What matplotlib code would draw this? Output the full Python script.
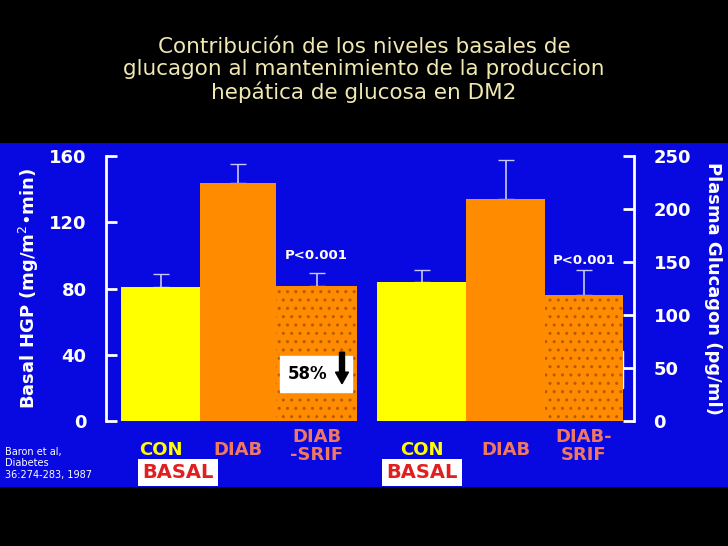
import matplotlib.pyplot as plt
from matplotlib.patches import Rectangle, FancyArrow

# Datos
groups = ['CON', 'DIAB', 'DIAB\n-SRIF']
groups_r = ['CON', 'DIAB', 'DIAB-\nSRIF']
hgp = [81, 144, 81.5]
hgp_err = [8, 11, 8]
glucagon = [131, 209, 119]
glucagon_err = [11, 37, 23]
left_ticks = [0, 40, 80, 120, 160]
right_ticks = [0, 50, 100, 150, 200, 250]

yellow = '#ffff00'
orange = '#ff8c00'
blue = '#0808e0'
lab_cols = [yellow, '#f07860', '#f07860']

fig = plt.figure(figsize=(7.28, 5.46), dpi=100, facecolor='black')
bg = fig.add_axes([0, 59/546, 1, 344/546], zorder=-1)
bg.set_facecolor(blue)
bg.axis('off')
bg.add_patch(Rectangle((0, 0), 1, 1, transform=bg.transAxes, color=blue))
fig.text(0.5, 1 - 70/546,
         'Contribución de los niveles basales de\nglucagon al mantenimiento de la produccion\nhepática de glucosa en DM2',
         ha='center', va='center', color='#f0e8b0', fontsize=15.5, linespacing=1.15)

pos = [106/728, (546-421)/546, (634-106)/728, (421-156)/546]
ax = fig.add_axes(pos)
ax.set_facecolor('none')
ax.set_xlim(106, 634)
ax.set_ylim(0, 160)
ax2 = ax.twinx()
ax2.set_ylim(0, 250)

# barras izquierda (HGP)
lx = [121, 200, 276]
lw = [79, 76, 81]
ax.bar(lx[:2], hgp[:2], width=lw[:2], align='edge', color=[yellow, orange], zorder=2)
ax.bar(lx[2], hgp[2], width=lw[2], align='edge', color=orange, hatch='..',
       edgecolor='#b85a00', linewidth=0, zorder=2)
ax.errorbar([x + w/2 for x, w in zip(lx, lw)], hgp, yerr=[[0]*3, hgp_err], fmt='none',
            ecolor='#c8c8ff', capsize=6, elinewidth=1.2, zorder=1)

# barras derecha (glucagon)
rx = [377, 466, 545]
rw = [89, 79, 78]
ax2.bar(rx[:2], glucagon[:2], width=rw[:2], align='edge', color=[yellow, orange], zorder=2)
ax2.bar(rx[2], glucagon[2], width=rw[2], align='edge', color=orange, hatch='..',
        edgecolor='#b85a00', linewidth=0, zorder=2)
ax2.errorbar([x + w/2 for x, w in zip(rx, rw)], glucagon, yerr=[[0]*3, glucagon_err],
             fmt='none', ecolor='#c8c8ff', capsize=6, elinewidth=1.2, zorder=1)

for a, ticks in ((ax, left_ticks), (ax2, right_ticks)):
    a.set_yticks(ticks)
    for s in a.spines.values():
        s.set_visible(False)
    a.tick_params(axis='y', colors='white', labelsize=13, direction='in', length=8,
                  width=2, pad=14)
    for t in a.get_yticklabels():
        t.set_fontweight('bold')
ax.spines['left'].set_visible(True)
ax.spines['left'].set_color('white')
ax.spines['left'].set_linewidth(2)
ax2.spines['right'].set_visible(True)
ax2.spines['right'].set_color('white')
ax2.spines['right'].set_linewidth(2)
ax.set_xticks([])
ax.set_ylabel('Basal HGP (mg/m$^2$•min)', color='white', fontsize=13,
              fontweight='bold', labelpad=6)
ax2.set_ylabel('Plasma Glucagon (pg/ml)', color='white', fontsize=13,
               fontweight='bold', rotation=270, labelpad=22)

# etiquetas de categorías
for xs, ws, names in ((lx, lw, groups), (rx, rw, groups_r)):
    for x, w, n, c in zip(xs, ws, names, lab_cols):
        ax.text(x + w/2, -4 if '\n' in n else -12, n, ha='center', va='top',
                color=c, fontsize=13, fontweight='bold', linespacing=1.0, clip_on=False)
for xc in (178, 422):
    ax.text(xc, -31, 'BASAL', ha='center', va='center', color='#e02020', fontsize=14,
            fontweight='bold', clip_on=False,
            bbox=dict(facecolor='white', edgecolor='none', pad=3))

ax.text(lx[2] + lw[2]/2, 100, 'P<0.001', ha='center', va='center', color='white',
        fontsize=9.5, fontweight='bold')
ax.text(rx[2] + rw[2]/2, 97, 'P<0.001', ha='center', va='center', color='white',
        fontsize=9.5, fontweight='bold')

# recuadros de porcentaje
for bx, bw, y0, txt in ((280, 72, 17.5, '58%'), (545, 78, 20, '44%')):
    ax.add_patch(Rectangle((bx, y0), bw, 22, color='white', zorder=3))
    ax.text(bx + 8, y0 + 11, txt, ha='left', va='center', fontsize=12,
            fontweight='bold', color='black', zorder=4)
    ax.add_patch(FancyArrow(bx + bw - 10, y0 + 24, 0, -19, width=5, head_width=13,
                            head_length=7, length_includes_head=True,
                            color='black', zorder=5))

fig.text(5/728, 1-480/546, 'Baron et al,\nDiabetes\n36:274-283, 1987', color='white',
         fontsize=7, ha='left', va='bottom', linespacing=1.2)

fig.savefig('out.png', dpi=100, facecolor='black')
